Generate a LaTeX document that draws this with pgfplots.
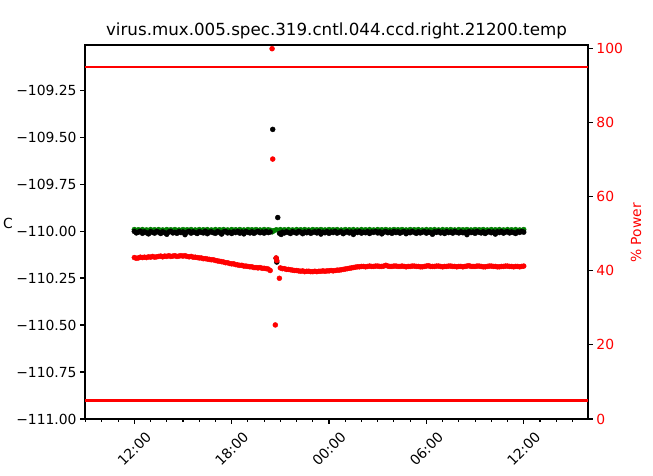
\documentclass[border=0pt]{standalone}
\usepackage{fontspec}
\setmainfont{DejaVu Sans}
\usepackage{pgfplots}
\pgfplotsset{compat=1.18}
\usepackage{pgfplotstable}

% temperature (C), hours since midnight of day 1
\pgfplotstableread{
t v
12.000 -110.002
12.125 -110.010
12.250 -110.006
12.375 -110.001
12.500 -110.012
12.625 -110.004
12.750 -110.009
12.875 -110.015
13.000 -110.003
13.125 -110.007
13.250 -110.011
13.375 -110.002
13.500 -110.006
13.625 -110.013
13.750 -110.004
13.875 -110.009
14.000 -110.017
14.125 -110.005
14.250 -110.002
14.375 -110.010
14.500 -110.007
14.625 -110.012
14.750 -110.003
14.875 -110.008
15.000 -110.005
15.125 -110.019
15.250 -110.006
15.375 -110.002
15.500 -110.011
15.625 -110.004
15.750 -110.008
15.875 -110.013
16.000 -110.003
16.125 -110.007
16.250 -110.010
16.375 -110.001
16.500 -110.014
16.625 -110.006
16.750 -110.004
16.875 -110.009
17.000 -110.012
17.125 -110.003
17.250 -110.007
17.375 -110.016
17.500 -110.005
17.625 -110.002
17.750 -110.010
17.875 -110.006
18.000 -110.013
18.125 -110.004
18.250 -110.008
18.375 -110.002
18.500 -110.011
18.625 -110.005
18.750 -110.015
18.875 -110.003
19.000 -110.007
19.125 -110.010
19.250 -110.004
19.375 -110.012
19.500 -110.006
19.625 -110.002
19.750 -110.009
19.875 -110.005
20.000 -110.011
20.125 -110.003
20.250 -110.008
20.375 -110.005
20.530 -109.459
20.740 -110.145
20.780 -110.165
20.840 -109.928
20.950 -110.012
21.050 -110.018
21.125 -110.006
21.250 -110.010
21.375 -110.004
21.500 -110.008
21.625 -110.013
21.750 -110.003
21.875 -110.007
22.000 -110.011
22.125 -110.002
22.250 -110.006
22.375 -110.014
22.500 -110.005
22.625 -110.009
22.750 -110.003
22.875 -110.012
23.000 -110.007
23.125 -110.004
23.250 -110.010
23.375 -110.002
23.500 -110.016
23.625 -110.006
23.750 -110.009
23.875 -110.003
24.000 -110.012
24.125 -110.005
24.250 -110.008
24.375 -110.002
24.500 -110.011
24.625 -110.006
24.750 -110.004
24.875 -110.014
25.000 -110.007
25.125 -110.003
25.250 -110.010
25.375 -110.005
25.500 -110.018
25.625 -110.004
25.750 -110.008
25.875 -110.002
26.000 -110.011
26.125 -110.006
26.250 -110.009
26.375 -110.003
26.500 -110.013
26.625 -110.005
26.750 -110.007
26.875 -110.002
27.000 -110.010
27.125 -110.004
27.250 -110.015
27.375 -110.006
27.500 -110.003
27.625 -110.009
27.750 -110.005
27.875 -110.012
28.000 -110.002
28.125 -110.008
28.250 -110.004
28.375 -110.011
28.500 -110.006
28.625 -110.003
28.750 -110.014
28.875 -110.005
29.000 -110.009
29.125 -110.002
29.250 -110.007
29.375 -110.012
29.500 -110.004
29.625 -110.010
29.750 -110.006
29.875 -110.003
30.000 -110.011
30.125 -110.005
30.250 -110.008
30.375 -110.017
30.500 -110.004
30.625 -110.007
30.750 -110.002
30.875 -110.010
31.000 -110.006
31.125 -110.013
31.250 -110.003
31.375 -110.008
31.500 -110.005
31.625 -110.011
31.750 -110.002
31.875 -110.007
32.000 -110.010
32.125 -110.004
32.250 -110.009
32.375 -110.006
32.500 -110.019
32.625 -110.003
32.750 -110.008
32.875 -110.005
33.000 -110.012
33.125 -110.002
33.250 -110.007
33.375 -110.010
33.500 -110.004
33.625 -110.013
33.750 -110.006
33.875 -110.003
34.000 -110.009
34.125 -110.005
34.250 -110.016
34.375 -110.004
34.500 -110.008
34.625 -110.002
34.750 -110.011
34.875 -110.006
35.000 -110.003
35.125 -110.010
35.250 -110.005
35.375 -110.008
35.500 -110.013
35.625 -110.004
35.750 -110.007
35.875 -110.002
36.000 -110.006
}\temptable

% setpoint
\pgfplotstableread{
t v
12.00 -109.992
12.25 -109.993
12.50 -109.992
12.75 -109.994
13.00 -109.992
13.25 -109.993
13.50 -109.992
13.75 -109.994
14.00 -109.992
14.25 -109.993
14.50 -109.992
14.75 -109.994
15.00 -109.992
15.25 -109.993
15.50 -109.992
15.75 -109.994
16.00 -109.992
16.25 -109.993
16.50 -109.992
16.75 -109.994
17.00 -109.992
17.25 -109.993
17.50 -109.992
17.75 -109.994
18.00 -109.992
18.25 -109.993
18.50 -109.992
18.75 -109.994
19.00 -109.992
19.25 -109.993
19.50 -109.992
19.75 -109.994
20.00 -109.992
20.25 -109.993
20.40 -109.996
20.50 -110.004
20.60 -109.998
20.75 -109.993
21.00 -109.992
21.25 -109.993
21.50 -109.992
21.75 -109.994
22.00 -109.992
22.25 -109.993
22.50 -109.992
22.75 -109.994
23.00 -109.992
23.25 -109.993
23.50 -109.992
23.75 -109.994
24.00 -109.992
24.25 -109.993
24.50 -109.992
24.75 -109.994
25.00 -109.992
25.25 -109.993
25.50 -109.992
25.75 -109.994
26.00 -109.992
26.25 -109.993
26.50 -109.992
26.75 -109.994
27.00 -109.992
27.25 -109.993
27.50 -109.992
27.75 -109.994
28.00 -109.992
28.25 -109.993
28.50 -109.992
28.75 -109.994
29.00 -109.992
29.25 -109.993
29.50 -109.992
29.75 -109.994
30.00 -109.992
30.25 -109.993
30.50 -109.992
30.75 -109.994
31.00 -109.992
31.25 -109.993
31.50 -109.992
31.75 -109.994
32.00 -109.992
32.25 -109.993
32.50 -109.992
32.75 -109.994
33.00 -109.992
33.25 -109.993
33.50 -109.992
33.75 -109.994
34.00 -109.992
34.25 -109.993
34.50 -109.992
34.75 -109.994
35.00 -109.992
35.25 -109.993
35.50 -109.992
35.75 -109.994
36.00 -109.992
}\setptable

% heater power (%)
\pgfplotstableread{
t p
12.000 43.6
12.125 43.4
12.250 43.5
12.375 43.7
12.500 43.6
12.625 43.7
12.750 43.6
12.875 43.8
13.000 43.7
13.125 43.9
13.250 43.7
13.375 43.8
13.500 43.9
13.625 44.0
13.750 43.8
13.875 44.0
14.000 43.9
14.125 44.1
14.250 43.9
14.375 44.0
14.500 44.1
14.625 43.9
14.750 44.0
14.875 44.1
15.000 44.0
15.125 44.1
15.250 43.9
15.375 43.8
15.500 43.9
15.625 43.7
15.750 43.7
15.875 43.6
16.000 43.5
16.125 43.5
16.250 43.3
16.375 43.3
16.500 43.2
16.625 43.1
16.750 43.0
16.875 43.0
17.000 42.8
17.125 42.7
17.250 42.6
17.375 42.5
17.500 42.4
17.625 42.2
17.750 42.2
17.875 42.0
18.000 41.9
18.125 41.9
18.250 41.7
18.375 41.6
18.500 41.5
18.625 41.5
18.750 41.3
18.875 41.3
19.000 41.2
19.125 41.1
19.250 41.1
19.375 40.9
19.500 40.9
19.625 40.8
19.750 40.9
19.875 40.7
20.000 40.7
20.125 40.6
20.250 40.5
20.375 40.1
20.490 100.0
20.530 70.2
20.690 25.4
20.740 43.5
20.780 42.8
20.940 38.0
21.000 40.8
21.125 40.6
21.250 40.6
21.375 40.4
21.500 40.4
21.625 40.3
21.750 40.2
21.875 40.1
22.000 40.1
22.125 40.0
22.250 39.9
22.375 40.0
22.500 39.8
22.625 39.9
22.750 39.9
22.875 39.8
23.000 39.8
23.125 39.9
23.250 39.8
23.375 39.9
23.500 39.9
23.625 40.0
23.750 39.9
23.875 40.0
24.000 40.0
24.125 40.1
24.250 40.0
24.375 40.1
24.500 40.2
24.625 40.2
24.750 40.3
24.875 40.4
25.000 40.5
25.125 40.6
25.250 40.7
25.375 40.8
25.500 40.9
25.625 41.0
25.750 41.1
25.875 41.1
26.000 41.2
26.125 41.2
26.250 41.1
26.375 41.2
26.500 41.3
26.625 41.2
26.750 41.2
26.875 41.3
27.000 41.3
27.125 41.2
27.250 41.2
27.375 41.3
27.500 41.5
27.625 41.3
27.750 41.2
27.875 41.2
28.000 41.3
28.125 41.3
28.250 41.2
28.375 41.2
28.500 41.3
28.625 41.2
28.750 41.1
28.875 41.2
29.000 41.2
29.125 41.3
29.250 41.3
29.375 41.2
29.500 41.2
29.625 41.1
29.750 41.1
29.875 41.2
30.000 41.3
30.125 41.4
30.250 41.2
30.375 41.2
30.500 41.2
30.625 41.3
30.750 41.3
30.875 41.2
31.000 41.1
31.125 41.2
31.250 41.2
31.375 41.3
31.500 41.3
31.625 41.2
31.750 41.2
31.875 41.1
32.000 41.2
32.125 41.2
32.250 41.1
32.375 41.2
32.500 41.3
32.625 41.4
32.750 41.2
32.875 41.2
33.000 41.2
33.125 41.3
33.250 41.3
33.375 41.2
33.500 41.1
33.625 41.1
33.750 41.2
33.875 41.3
34.000 41.3
34.125 41.2
34.250 41.2
34.375 41.1
34.500 41.1
34.625 41.2
34.750 41.2
34.875 41.3
35.000 41.3
35.125 41.2
35.250 41.2
35.375 41.1
35.500 41.2
35.625 41.2
35.750 41.1
35.875 41.2
36.000 41.3
}\powertable

\definecolor{mplgreen}{rgb}{0,0.5,0}
\pgfplotsset{
  base/.style={
    at={(0,0)}, anchor=south west,
    scale only axis, width=503bp, height=374bp,
    xmin=8.96, xmax=39.96,
    tick align=outside,
    major tick length=4.9bp, minor tick length=2.8bp,
    every tick/.style={black, line width=1.1bp},
    axis line style={line width=1.1bp},
    tick label style={font=\fontsize{13.9bp}{16bp}\selectfont},
    /pgf/number format/assume math mode=true,
  },
}

\begin{document}
\begin{tikzpicture}
\useasboundingbox (-85bp,-57bp) rectangle (568bp,419bp);

\begin{axis}[base,
    ymin=-111.0, ymax=-109.01,
    xtick pos=bottom, ytick pos=left,
    xtick={12,18,24,30,36},
    xticklabels={12:00,18:00,00:00,06:00,12:00},
    minor xtick={9,10,...,39},
    xticklabel style={yshift=-25bp, rotate=45, anchor=center},
    ytick={-111,-110.75,-110.5,-110.25,-110,-109.75,-109.5,-109.25},
    yticklabels={−111.00,−110.75,−110.50,−110.25,−110.00,−109.75,−109.50,−109.25},
    title={virus.mux.005.spec.319.cntl.044.ccd.right.21200.temp},
    title style={at={(rel axis cs:0.5,1)}, anchor=base, yshift=3.5bp,
      font=\fontsize{16.7bp}{20bp}\selectfont},
  ]
  \addplot[only marks, mark=*, mark size=2.5bp, mplgreen] table[x=t, y=v] {\setptable};
  \addplot[only marks, mark=*, mark size=2.5bp, black] table[x=t, y=v] {\temptable};
\end{axis}

\begin{axis}[base,
    ymin=0, ymax=101,
    axis x line=none, axis y line*=right,
    ytick={0,20,40,60,80,100},
    yticklabel style={text=red},
  ]
  \addplot[red, line width=2.1bp] coordinates {(8.96,95) (39.96,95)};
  \addplot[red, line width=2.1bp] coordinates {(8.96,5) (39.96,5)};
  \addplot[only marks, mark=*, mark size=2.5bp, red] table[x=t, y=p] {\powertable};
\end{axis}

\node[font=\fontsize{13.9bp}{16bp}\selectfont] at (-77bp,196bp) {C};
\node[rotate=90, text=red, font=\fontsize{13.9bp}{16bp}\selectfont] at (551bp,186bp) {\% Power};
\end{tikzpicture}
\end{document}
